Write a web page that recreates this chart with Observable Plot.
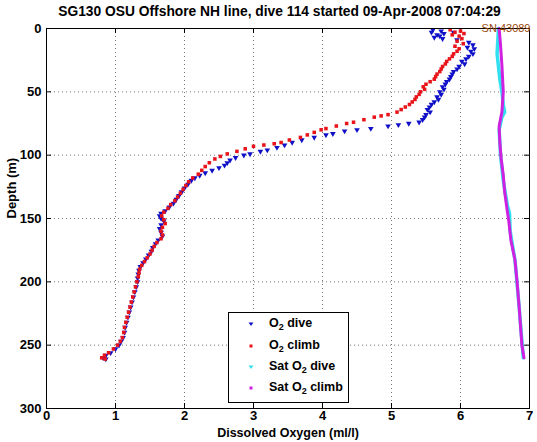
<!DOCTYPE html>
<html><head><meta charset="utf-8">
<script src="https://cdn.jsdelivr.net/npm/d3@7"></script>
<script src="https://cdn.jsdelivr.net/npm/@observablehq/plot@0.6"></script>
<style>
body{margin:0;background:#fff;font-family:"Liberation Sans",Arial,sans-serif;}
#wrap{position:relative;width:537px;height:442px;}
#title{position:absolute;left:38px;width:483px;top:4px;text-align:center;font-weight:bold;font-size:13.8px;color:#000;white-space:nowrap;}
#chart{position:absolute;left:0;top:22px;}
#legend{position:absolute;left:228px;top:312px;width:119px;height:89px;border:1px solid #000;background:#fff;font-weight:bold;font-size:12.5px;}
.row{position:absolute;left:0;height:16px;width:119px;}
.row svg{position:absolute;left:19px;top:5px;}
.row span{position:absolute;left:40px;top:0;white-space:nowrap;}
sub{font-size:9px;vertical-align:-3px;}
</style></head>
<body><div id="wrap"><div id="title">SG130 OSU Offshore NH line, dive 114 started 09-Apr-2008 07:04:29</div><div id="chart"></div>
<div id="legend"></div></div>
<script>
const xTicks=[0,1,2,3,4,5,6,7];
const yTicks=[0,50,100,150,200,250,300];
const xLabel="Dissolved Oxygen (ml/l)";
const yLabel="Depth (m)";
const serialLabel="SN 43089";
const legendLabels=["O<sub>2</sub> dive","O<sub>2</sub> climb","Sat O<sub>2</sub> dive","Sat O<sub>2</sub> climb"];
const legendColors=["#1010c8","#e8141a","#30e0f0","#d020e0"];
// [depth m, O2 ml/l]
const diveData=[[1,5.60],[2,5.72],[3,5.58],[4,5.76],[5,5.66],[6,5.70],[7,5.62],[8,5.74],[3,5.90],[9,5.95],
[11,6.12],[13,6.18],[15,6.10],[16,6.20],[18,6.15],[20,6.18],[22,6.12],[24,6.08],
[26,6.02],[28,6.06],[30,5.98],[32,5.95],[34,5.90],[36,5.88],[38,5.86],[40,5.84],[42,5.80],
[44,5.78],[46,5.74],[48,5.76],[50,5.70],[52,5.72],[54,5.66],[56,5.68],[58,5.62],[60,5.58],[62,5.55],[64,5.52],[66,5.56],[68,5.50],[70,5.48],[72,5.45],[74,5.40],[75,5.25],[76,5.10],[77,4.95],[79,4.70],[80,4.50],[81,4.32],[83,4.15],[84,4.05],[86,3.88],[88,3.70],[90,3.56],[92,3.45],[94,3.34],[96,3.20],[97,3.10],[99,2.95],[100,2.86],[102,2.74],[104,2.66],[106,2.62],[108,2.58],[110,2.50],[112,2.40],[114,2.30],[116,2.22],[118,2.15],[120,2.10],[123,2.05],[126,2.00],[129,1.96],[132,1.92],[135,1.88],[138,1.84],[141,1.78],[144,1.72],[146,1.66],[148,1.64],[150,1.66],[152,1.70],[155,1.66],[158,1.64],[161,1.66],[164,1.68],[167,1.62],[170,1.58],[173,1.54],[176,1.52],[179,1.48],[182,1.44],[185,1.40],[188,1.36],[191,1.34],[194,1.33],[197,1.32],[200,1.32],[204,1.30],[208,1.28],[212,1.26],[216,1.24],[220,1.22],[224,1.20],[228,1.18],[232,1.16],[236,1.14],[240,1.13],[244,1.11],[247,1.08],[250,1.05],[253,1.00],[256,0.93],[258,0.86],[260,0.82],[261,0.86]];
const climbData=[[1,5.85],[2,6.00],[3,5.92],[4,6.05],[5,5.88],[6,5.98],[8,6.02],[10,5.95],[12,6.04],[14,5.92],[16,5.98],[18,5.95],[20,5.90],[22,5.88],[24,5.84],[26,5.80],[28,5.78],[30,5.74],[32,5.72],[34,5.70],[36,5.66],[38,5.64],[40,5.62],[42,5.56],[44,5.50],[46,5.46],[48,5.48],[50,5.42],[52,5.40],[54,5.36],[56,5.34],[58,5.30],[60,5.26],[62,5.20],[64,5.14],[66,5.08],[68,4.95],[69,4.85],[70,4.75],[72,4.60],[74,4.45],[75,4.35],[77,4.20],[79,4.05],[80,3.98],[82,3.88],[84,3.78],[86,3.68],[88,3.52],[90,3.40],[91,3.30],[92,3.15],[93,3.00],[95,2.88],[97,2.76],[99,2.62],[101,2.52],[103,2.44],[106,2.36],[109,2.30],[112,2.25],[115,2.20],[118,2.12],[121,2.06],[124,2.02],[127,1.98],[130,1.94],[133,1.90],[136,1.86],[139,1.80],[142,1.76],[145,1.70],[148,1.67],[151,1.70],[154,1.72],[157,1.68],[160,1.66],[163,1.68],[166,1.66],[169,1.60],[172,1.56],[175,1.53],[178,1.50],[181,1.46],[184,1.42],[187,1.38],[190,1.35],[193,1.34],[196,1.33],[200,1.31],[204,1.29],[208,1.27],[212,1.25],[216,1.23],[220,1.21],[224,1.19],[228,1.17],[232,1.15],[236,1.13],[240,1.12],[244,1.10],[247,1.07],[250,1.03],[253,0.97],[256,0.90],[258,0.84],[260,0.80],[261,0.85]];
const satDiveData=[[0,6.55],[10,6.54],[20,6.53],[30,6.55],[40,6.57],[50,6.60],[60,6.62],[66,6.64],[70,6.60],[80,6.56],[100,6.58],[120,6.62],[140,6.68],[146,6.71],[160,6.72],[183,6.79],[220,6.85],[260,6.91]];
const satClimbData=[[0,6.56],[13,6.58],[29,6.60],[50,6.62],[66,6.60],[77,6.56],[90,6.57],[103,6.59],[116,6.62],[129,6.64],[145,6.68],[152,6.70],[167,6.73],[183,6.79],[200,6.82],[220,6.85],[250,6.89],[260,6.92]];

const W=537,H=420,mT=6,mB=34,mL=46,mR=8;
const ih=H-mT-mB, iw=W-mL-mR;
const grid={stroke:"#777",strokeDasharray:"1,3",strokeWidth:1};
const chart=Plot.plot({
  width:W,height:H,marginTop:mT,marginBottom:mB,marginLeft:mL,marginRight:mR,
  style:{fontFamily:"'Liberation Sans',Arial,sans-serif",fontSize:"13px",fontWeight:"bold",color:"#000",background:"#fff"},
  x:{domain:[0,7]},
  y:{domain:[0,300],reverse:true},
  marks:[
    Plot.ruleX(xTicks.slice(1,-1),{x:d=>d,...grid}),
    Plot.ruleY(yTicks.slice(1,-1),{y:d=>d,...grid}),
    Plot.ruleX(xTicks,{x:d=>d,insetTop:ih-5,stroke:"#000"}),
    Plot.ruleX(xTicks,{x:d=>d,insetBottom:ih-5,stroke:"#000"}),
    Plot.ruleY(yTicks,{y:d=>d,insetRight:iw-5,stroke:"#000"}),
    Plot.ruleY(yTicks,{y:d=>d,insetLeft:iw-5,stroke:"#000"}),
    Plot.axisX({ticks:xTicks,tickFormat:d=>String(d),tickSize:0,tickPadding:2,label:null,fontSize:13,fontWeight:"bold"}),
    Plot.axisY({ticks:yTicks,tickFormat:d=>String(d),tickSize:0,tickPadding:5,label:null,fontSize:13,fontWeight:"bold"}),
    Plot.dot(diveData,{x:d=>d[1],y:d=>d[0],symbol:"triangle",r:2.1,rotate:180,fill:legendColors[0],stroke:"none"}),
    Plot.dot(climbData,{x:d=>d[1],y:d=>d[0],symbol:"square",r:2,fill:legendColors[1],stroke:"none"}),
    Plot.line(satDiveData,{x:d=>d[1],y:d=>d[0],stroke:legendColors[2],strokeWidth:3.5}),
    Plot.line(satClimbData,{x:d=>d[1],y:d=>d[0],stroke:legendColors[3],strokeWidth:3}),
    Plot.frame({stroke:"#000",strokeWidth:1}),
    Plot.text([xLabel],{frameAnchor:"bottom",dy:28,fontSize:12.5,fontWeight:"bold"}),
    Plot.text([yLabel],{frameAnchor:"left",dx:-35,rotate:-90,fontSize:13,fontWeight:"bold"}),
    Plot.text([serialLabel],{frameAnchor:"top-right",dy:-4,dx:1,textAnchor:"end",fontSize:11,fontWeight:"normal",fill:"#9a4a10"})
  ]
});
document.getElementById("chart").appendChild(chart);
const lg=document.getElementById("legend");
const rowTops=[3,25,46,67];
legendLabels.forEach((t,i)=>{
  const r=document.createElement("div");r.className="row";r.style.top=rowTops[i]+"px";
  const tri=(i%2===0);
  r.innerHTML=`<svg width="6" height="6">${tri?`<path d="M0.5,1.5L5.5,1.5L3,5Z" fill="${legendColors[i]}"/>`:`<rect x="1.5" y="1.5" width="3" height="3" fill="${legendColors[i]}"/>`}</svg><span>${t}</span>`;
  lg.appendChild(r);
});
</script></body></html>
